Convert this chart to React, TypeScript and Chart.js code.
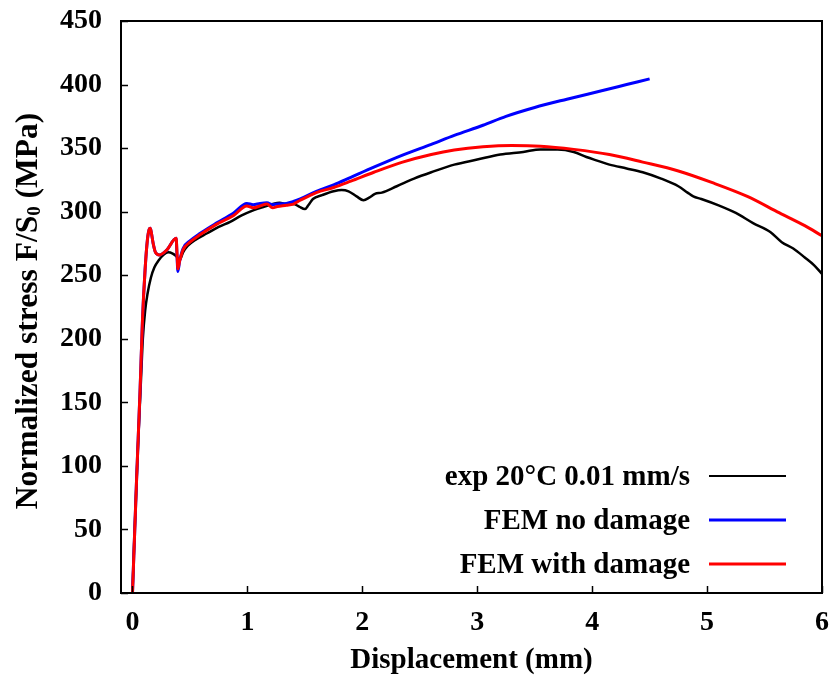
import { useEffect, useRef } from 'react';
import { Chart, registerables } from 'chart.js';

Chart.register(...registerables);

// ---- Data ----
const xTickValues = [0, 1, 2, 3, 4, 5, 6];
const yTickValues = [0, 50, 100, 150, 200, 250, 300, 350, 400, 450];

const legendLabels = ['exp 20°C 0.01 mm/s', 'FEM no damage', 'FEM with damage'];

const expX = [0, 0.015, 0.03, 0.045, 0.06, 0.075, 0.09, 0.11, 0.13, 0.16,
  0.19, 0.23, 0.27, 0.31, 0.35, 0.38, 0.41, 0.44, 0.48, 0.55,
  0.65, 0.75, 0.85, 0.95, 1.05, 1.15, 1.22, 1.28, 1.34, 1.40,
  1.45, 1.50, 1.53, 1.57, 1.65, 1.75, 1.82, 1.88, 1.95, 2.01,
  2.06, 2.11, 2.17, 2.3, 2.45, 2.6, 2.8, 3.0, 3.2, 3.4,
  3.55, 3.7, 3.84, 3.95, 4.05, 4.15, 4.3, 4.44, 4.6, 4.75,
  4.83, 4.88, 4.95, 5.1, 5.25, 5.4, 5.55, 5.65, 5.75, 5.85,
  5.93, 6.0];
const expY = [0, 40, 75, 110, 140, 170, 200, 222, 235, 248,
  256, 262, 266, 268, 267, 265, 262, 268, 273, 278,
  283, 288, 292, 297, 301, 304, 306, 307, 306, 306,
  304, 302, 305, 310, 313, 316, 317, 316, 312, 309,
  311, 314, 315, 320, 326, 331, 337, 341, 345, 347,
  349, 349, 347, 343, 340, 337, 334, 331, 326, 320,
  315, 312, 310, 305, 299, 291, 284, 276, 271, 264,
  258, 251];

const noDamageX = [0, 0.035, 0.067, 0.087, 0.11, 0.13, 0.145, 0.155, 0.165, 0.18,
  0.2, 0.235, 0.30, 0.38, 0.388, 0.395, 0.41, 0.44, 0.5, 0.59,
  0.73, 0.88, 0.995, 1.05, 1.11, 1.17, 1.22, 1.26, 1.34, 1.40,
  1.46, 1.6, 1.75, 1.9, 2.1, 2.35, 2.6, 2.8, 3.05, 3.25,
  3.5, 3.78, 4.1, 4.3, 4.5];
const noDamageY = [0, 88, 162, 215, 255, 278, 286, 287, 283, 275,
  268, 266, 270, 279, 264, 253, 261, 271, 277, 283,
  291, 299, 306.5, 305.5, 306.5, 307, 305.5, 306, 306.5, 308,
  310, 316, 321, 327, 335, 344.5, 353, 360, 368, 375,
  382, 388.5, 395.5, 400, 404.5];

const damageX = [0, 0.035, 0.067, 0.087, 0.11, 0.13, 0.145, 0.155, 0.165, 0.18,
  0.2, 0.235, 0.30, 0.38, 0.388, 0.395, 0.41, 0.44, 0.5, 0.59,
  0.73, 0.88, 0.995, 1.05, 1.11, 1.17, 1.22, 1.26, 1.34, 1.40,
  1.46, 1.6, 1.75, 1.9, 2.1, 2.35, 2.6, 2.8, 3.05, 3.3,
  3.55, 3.84, 4.15, 4.44, 4.75, 5.04, 5.35, 5.63, 5.85, 6.0];
const damageY = [0, 88, 162, 215, 255, 278, 286, 287, 283, 275,
  268, 266, 270, 279, 266, 255, 261, 270, 276, 282,
  290, 297, 304.5, 303, 304.5, 306, 303, 304, 305, 306,
  309, 315, 319, 324, 331, 339, 345, 348.5, 351, 352,
  351.5, 349, 345, 339, 332, 323, 312, 299, 289, 281];

const seriesColors = ['#000000', '#0000ff', '#ff0000'];

const FONT = '"Liberation Serif", "Times New Roman", serif';

const toPoints = (xs: number[], ys: number[]) => xs.map((x, i) => ({ x, y: ys[i] }));

const overlayPlugin = {
  id: 'overlay',
  afterDraw(chart: any) {
    const { ctx, chartArea } = chart;
    const { left, right, top, bottom } = chartArea;
    const xs = chart.scales.x;
    const ys = chart.scales.y;
    ctx.save();
    // frame
    ctx.strokeStyle = '#000';
    ctx.lineWidth = 2;
    ctx.strokeRect(left, top, right - left, bottom - top);
    // inward ticks
    ctx.lineWidth = 1.5;
    ctx.beginPath();
    xTickValues.forEach((v) => {
      const px = Math.round(xs.getPixelForValue(v)) + 0.5;
      ctx.moveTo(px, bottom);
      ctx.lineTo(px, bottom - 7);
    });
    yTickValues.forEach((v) => {
      const py = Math.round(ys.getPixelForValue(v)) + 0.5;
      ctx.moveTo(left, py);
      ctx.lineTo(left + 7, py);
    });
    ctx.stroke();

    // legend
    const rowOffsets = [117, 73, 29];
    ctx.font = `bold 29px ${FONT}`;
    ctx.textAlign = 'right';
    ctx.textBaseline = 'alphabetic';
    legendLabels.forEach((label, i) => {
      const y = bottom - rowOffsets[i];
      ctx.fillStyle = '#000';
      ctx.fillText(label, right - 132, y + 9);
      ctx.strokeStyle = seriesColors[i];
      ctx.lineWidth = i === 0 ? 2 : 3;
      ctx.beginPath();
      ctx.moveTo(right - 113, y);
      ctx.lineTo(right - 36, y);
      ctx.stroke();
    });

    // y-axis title with subscript
    const mainFont = `bold 31.5px ${FONT}`;
    const subFont = `bold 19px ${FONT}`;
    const part1 = 'Normalized stress F/S';
    const sub = '0';
    const part2 = ' (MPa)';
    ctx.font = mainFont;
    const w1 = ctx.measureText(part1).width;
    const w3 = ctx.measureText(part2).width;
    ctx.font = subFont;
    const w2 = ctx.measureText(sub).width;
    const total = w1 + w2 + w3;
    const cy = (top + bottom) / 2 + 4;
    ctx.translate(37, cy);
    ctx.rotate(-Math.PI / 2);
    ctx.fillStyle = '#000';
    ctx.textAlign = 'left';
    let x0 = -total / 2;
    ctx.font = mainFont;
    ctx.fillText(part1, x0, 0);
    x0 += w1;
    ctx.font = subFont;
    ctx.fillText(sub, x0, 3);
    x0 += w2;
    ctx.font = mainFont;
    ctx.fillText(part2, x0, 0);
    ctx.restore();
  },
};

export default function App() {
  const canvasRef = useRef<HTMLCanvasElement | null>(null);

  useEffect(() => {
    const canvas = canvasRef.current;
    if (!canvas) return;
    const chart = new Chart(canvas, {
      type: 'scatter',
      data: {
        datasets: [
          {
            label: legendLabels[0],
            data: toPoints(expX, expY),
            borderColor: seriesColors[0],
            backgroundColor: seriesColors[0],
            borderWidth: 2.5,
            showLine: true,
            pointRadius: 0,
            cubicInterpolationMode: 'monotone',
            order: 3,
          },
          {
            label: legendLabels[1],
            data: toPoints(noDamageX, noDamageY),
            borderColor: seriesColors[1],
            backgroundColor: seriesColors[1],
            borderWidth: 3,
            showLine: true,
            pointRadius: 0,
            cubicInterpolationMode: 'monotone',
            order: 2,
          },
          {
            label: legendLabels[2],
            data: toPoints(damageX, damageY),
            borderColor: seriesColors[2],
            backgroundColor: seriesColors[2],
            borderWidth: 3,
            showLine: true,
            pointRadius: 0,
            cubicInterpolationMode: 'monotone',
            order: 1,
          },
        ],
      },
      options: {
        responsive: false,
        animation: false,
        layout: { padding: { top: 21, right: 15, left: 0, bottom: 0 } },
        plugins: {
          legend: { display: false },
          tooltip: { enabled: false },
        },
        scales: {
          x: {
            type: 'linear',
            min: -0.1,
            max: 6,
            grid: { display: false, drawTicks: false },
            border: { display: false },
            afterBuildTicks: (scale: any) => {
              scale.ticks = xTickValues.map((v) => ({ value: v }));
            },
            afterFit: (scale: any) => {
              scale.height = 89;
              scale.paddingLeft = 0;
              scale.paddingRight = 0;
              scale.paddingTop = 0;
              scale.paddingBottom = 0;
            },
            ticks: {
              color: '#000',
              padding: 13,
              maxRotation: 0,
              autoSkip: false,
              font: { family: FONT, weight: 'bold', size: 28 },
            },
            title: {
              display: true,
              text: 'Displacement (mm)',
              color: '#000',
              font: { family: FONT, weight: 'bold', size: 29 },
              padding: { top: 0, bottom: 4 },
            },
          },
          y: {
            type: 'linear',
            min: 0,
            max: 450,
            grid: { display: false, drawTicks: false },
            border: { display: false },
            afterBuildTicks: (scale: any) => {
              scale.ticks = yTickValues.map((v) => ({ value: v }));
            },
            afterFit: (scale: any) => {
              scale.width = 121;
              scale.paddingLeft = 0;
              scale.paddingRight = 0;
              scale.paddingTop = 0;
              scale.paddingBottom = 0;
            },
            ticks: {
              color: '#000',
              padding: 19,
              autoSkip: false,
              font: { family: FONT, weight: 'bold', size: 28 },
            },
          },
        },
      },
      plugins: [overlayPlugin],
    } as any);
    return () => chart.destroy();
  }, []);

  return (
    <div style={{ position: 'fixed', left: 0, top: 0, width: 837, height: 682, background: '#fff' }}>
      <canvas ref={canvasRef} width={837} height={682} />
    </div>
  );
}
